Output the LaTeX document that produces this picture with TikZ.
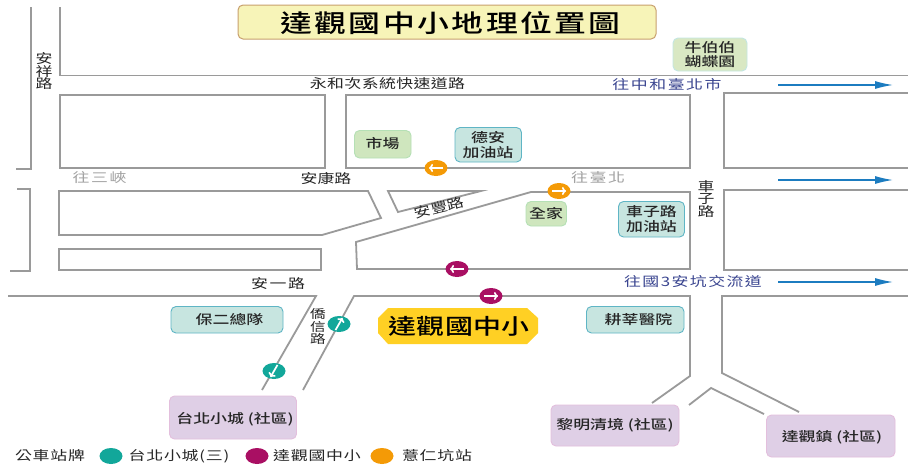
\documentclass[tikz,border=0pt]{standalone}
\usepackage{fontspec}
\usetikzlibrary{shapes.geometric,arrows.meta}
\newfontfamily\cjk[FakeStretch=1.3]{Noto Sans CJK TC}
\newfontfamily\cjkm[FakeStretch=1.3]{Noto Sans CJK TC Medium}
\newcommand\F[2]{\cjk\fontsize{#1}{#1}\selectfont\addfontfeature{LetterSpace=#2}}
\newcommand\M[2]{\cjkm\fontsize{#1}{#1}\selectfont\addfontfeature{LetterSpace=#2}}
\definecolor{road}{HTML}{9A9A9A}
\definecolor{bluearr}{HTML}{1C7CC0}
\definecolor{navy}{HTML}{3A4590}
\definecolor{graytxt}{HTML}{A2A2A2}
\definecolor{tealb}{HTML}{12A79A}
\definecolor{magb}{HTML}{A90F63}
\definecolor{orab}{HTML}{F49A06}
\definecolor{lgfill}{HTML}{D9E8C3}
\definecolor{lgdraw}{HTML}{C3E6E3}
\definecolor{tfill}{HTML}{C7E5E0}
\definecolor{tdraw}{HTML}{5FB5C5}
\definecolor{pfill}{HTML}{DFCFE6}
\definecolor{pdraw}{HTML}{E3BFDD}
\definecolor{gfill}{HTML}{CFE6BE}
\definecolor{gdraw}{HTML}{B5E0B5}
\definecolor{tifill}{HTML}{F7F4B8}
\definecolor{tidraw}{HTML}{C8A06E}
\definecolor{yfill}{HTML}{FFD024}
\tikzset{
  x=1pt,y=-1pt,
  roadline/.style={draw=road,line width=1.8pt,line join=miter},
  flow/.style={draw=bluearr,line width=1.3pt,-{Latex[length=18pt,width=8pt]}},
  lab/.style={inner sep=0pt,text=black!85,align=center},
  box/.style={rounded corners=5pt,line width=0.9pt},
  lightgreen/.style={box,fill=lgfill,draw=lgdraw},
  tealbox/.style={box,fill=tfill,draw=tdraw},
  purplebox/.style={box,fill=pfill,draw=pdraw},
  fitgreen/.style={box,fill=gfill,draw=gdraw},
  badge/.style={ellipse,minimum width=23pt,minimum height=16pt,inner sep=0pt}
}
\newcommand\stopmark[5]{%
  \node[badge,fill=#4] (#1) at (#2,#3) {};
  \begin{scope}[shift={(#1.center)},rotate=#5]
    \draw[white,line width=1.7pt,-{To[length=4pt,width=8pt]}] (-7,0) -- (7,0);
  \end{scope}}
\begin{document}
\begin{tikzpicture}
\useasboundingbox (0,0) rectangle (908,466);
\fill[white] (0,0) rectangle (908,466);
% roads
\draw[roadline] (31,7) -- (31,169) -- (16,169);
\draw[roadline] (60,7) -- (60,75.5) -- (908,75.5);
\draw[roadline] (60,95) rectangle (325,168);
\draw[roadline] (346,95) rectangle (690,168);
\draw[roadline] (908,93) -- (724,93) -- (724,168) -- (908,168);
\draw[roadline] (17,189) -- (30,189) -- (30,271) -- (10,271);
\draw[roadline] (59,191) -- (368,191) -- (381,218) -- (322,235) -- (59,235) -- cycle;
\draw[roadline] (388,191) -- (481,191) -- (398,212) -- cycle;
\draw[roadline] (357,269) -- (356,242) -- (531,192) -- (690,192) -- (690,269) -- cycle;
\draw[roadline] (59,249) rectangle (321,270);
\draw[roadline] (908,190) -- (724,190) -- (724,270) -- (908,270);
\draw[roadline] (8,296) -- (316,296) -- (262,390);
\draw[roadline] (303,390) -- (354,296) -- (690,296) -- (690,376) -- (652,403);
\draw[roadline] (908,296) -- (722,296) -- (722,373) -- (799,412);
\draw[roadline] (689,405) -- (711,388) -- (764,414);
% flow arrows
\coordinate (fa1) at (778,85); \coordinate (fb1) at (893,85);
\coordinate (fa2) at (778,180); \coordinate (fb2) at (893,180);
\coordinate (fa3) at (778,282); \coordinate (fb3) at (893,282);
\draw[flow] (fa1) -- (fb1);
\draw[flow] (fa2) -- (fb2);
\draw[flow] (fa3) -- (fb3);
% boxes
\path[fill=tifill,draw=tidraw,line width=1pt,rounded corners=5pt] (238,5) rectangle (656,39);
\path[lightgreen] (673,38) rectangle (747,71);
\path[fitgreen] (354.5,130.5) rectangle (411,158);
\path[tealbox] (455,127.5) rectangle (521.5,162);
\path[fitgreen] (526,201.5) rectangle (566.5,226);
\path[tealbox] (618.5,201.5) rectangle (684.5,237);
\path[tealbox] (171,306.5) rectangle (283,333);
\path[tealbox] (586.5,306.5) rectangle (684,333);
\path[purplebox] (169.5,396) rectangle (296.5,439);
\path[purplebox] (551,405) rectangle (679,446);
\path[purplebox] (766.5,415) rectangle (895,457);
\fill[yfill] (388,308) -- (527,308) -- (538,318) -- (538,333) -- (527,344) -- (388,344) -- (378,333) -- (378,318) -- cycle;
% texts
\node[lab,text=black,font=\M{24.5}{10}] (title) at (450.5,23) {達觀國中小地理位置圖};
\node[lab,font=\F{13}{0}] (t1) at (44,71.5) {安\\[-0.5pt]祥\\[-0.5pt]路};
\node[lab,font=\F{13}{3}] (t2) at (387.5,84) {永和次系統快速道路};
\node[lab,text=navy,font=\F{13}{12}] (t3) at (667,85) {往中和臺北市};
\node[lab,text=graytxt,font=\F{13}{12}] (t4) at (99.5,178) {往三峽};
\node[lab,font=\F{13}{0}] (t5) at (326,179) {安康路};
\node[lab,text=graytxt,font=\F{13}{12}] (t6) at (598,178) {往臺北};
\node[lab,font=\F{13}{0}] (t7) at (706,199) {車\\[-0.5pt]子\\[-0.5pt]路};
\node[lab,rotate=14,font=\F{13}{0}] (t8) at (439,208) {安豐路};
\node[lab,font=\F{13}{12}] (t9) at (278,284) {安一路};
\node[lab,font=\F{12}{0}] (t10) at (318,326.5) {僑\\[0.7pt]信\\[0.7pt]路};
\node[lab,text=navy,font=\F{13}{11}] (t11) at (693,282) {往國3安坑交流道};
\node[lab,font=\M{13}{0}] (b1) at (710,54.5) {牛伯伯\\[1.5pt]蝴蝶園};
\node[lab,font=\M{13}{0}] (b2) at (382.5,144) {市場};
\node[lab,font=\M{13}{0}] (b3) at (488,145) {德安\\[2pt]加油站};
\node[lab,font=\M{13}{0}] (b4) at (546,213) {全家};
\node[lab,font=\M{13}{0}] (b5) at (651.5,219) {車子路\\[2pt]加油站};
\node[lab,font=\M{13}{0}] (b6) at (229.5,320) {保二總隊};
\node[lab,font=\M{13}{0}] (b7) at (638.5,320) {耕莘醫院};
\node[lab,text=black,font=\M{21.5}{2}] (b8) at (459,326) {達觀國中小};
\node[lab,font=\M{13}{0}] (b9) at (235,419) {台北小城 (社區)};
\node[lab,font=\M{13}{0}] (b10) at (615,425.5) {黎明清境 (社區)};
\node[lab,font=\M{13}{0}] (b11) at (832,437) {達觀鎮 (社區)};
% legend
\node[lab,font=\F{13}{6}] (l0) at (50,456) {公車站牌};
\node[badge,fill=tealb] (k1) at (111,456) {};
\node[lab,font=\F{13}{6}] (l1) at (179,456) {台北小城(三)};
\node[badge,fill=magb] (k2) at (257,456) {};
\node[lab,font=\F{13}{6}] (l2) at (317,456) {達觀國中小};
\node[badge,fill=orab] (k3) at (382,456) {};
\node[lab,font=\F{13}{6}] (l3) at (437,456) {薏仁坑站};
% stops
\stopmark{s1}{436}{168}{orab}{180}
\stopmark{s2}{559}{191}{orab}{0}
\stopmark{s3}{457}{269}{magb}{180}
\stopmark{s4}{491}{296}{magb}{0}
\stopmark{s5}{339}{324}{tealb}{60}
\stopmark{s6}{274}{371}{tealb}{240}
\end{tikzpicture}
\end{document}
